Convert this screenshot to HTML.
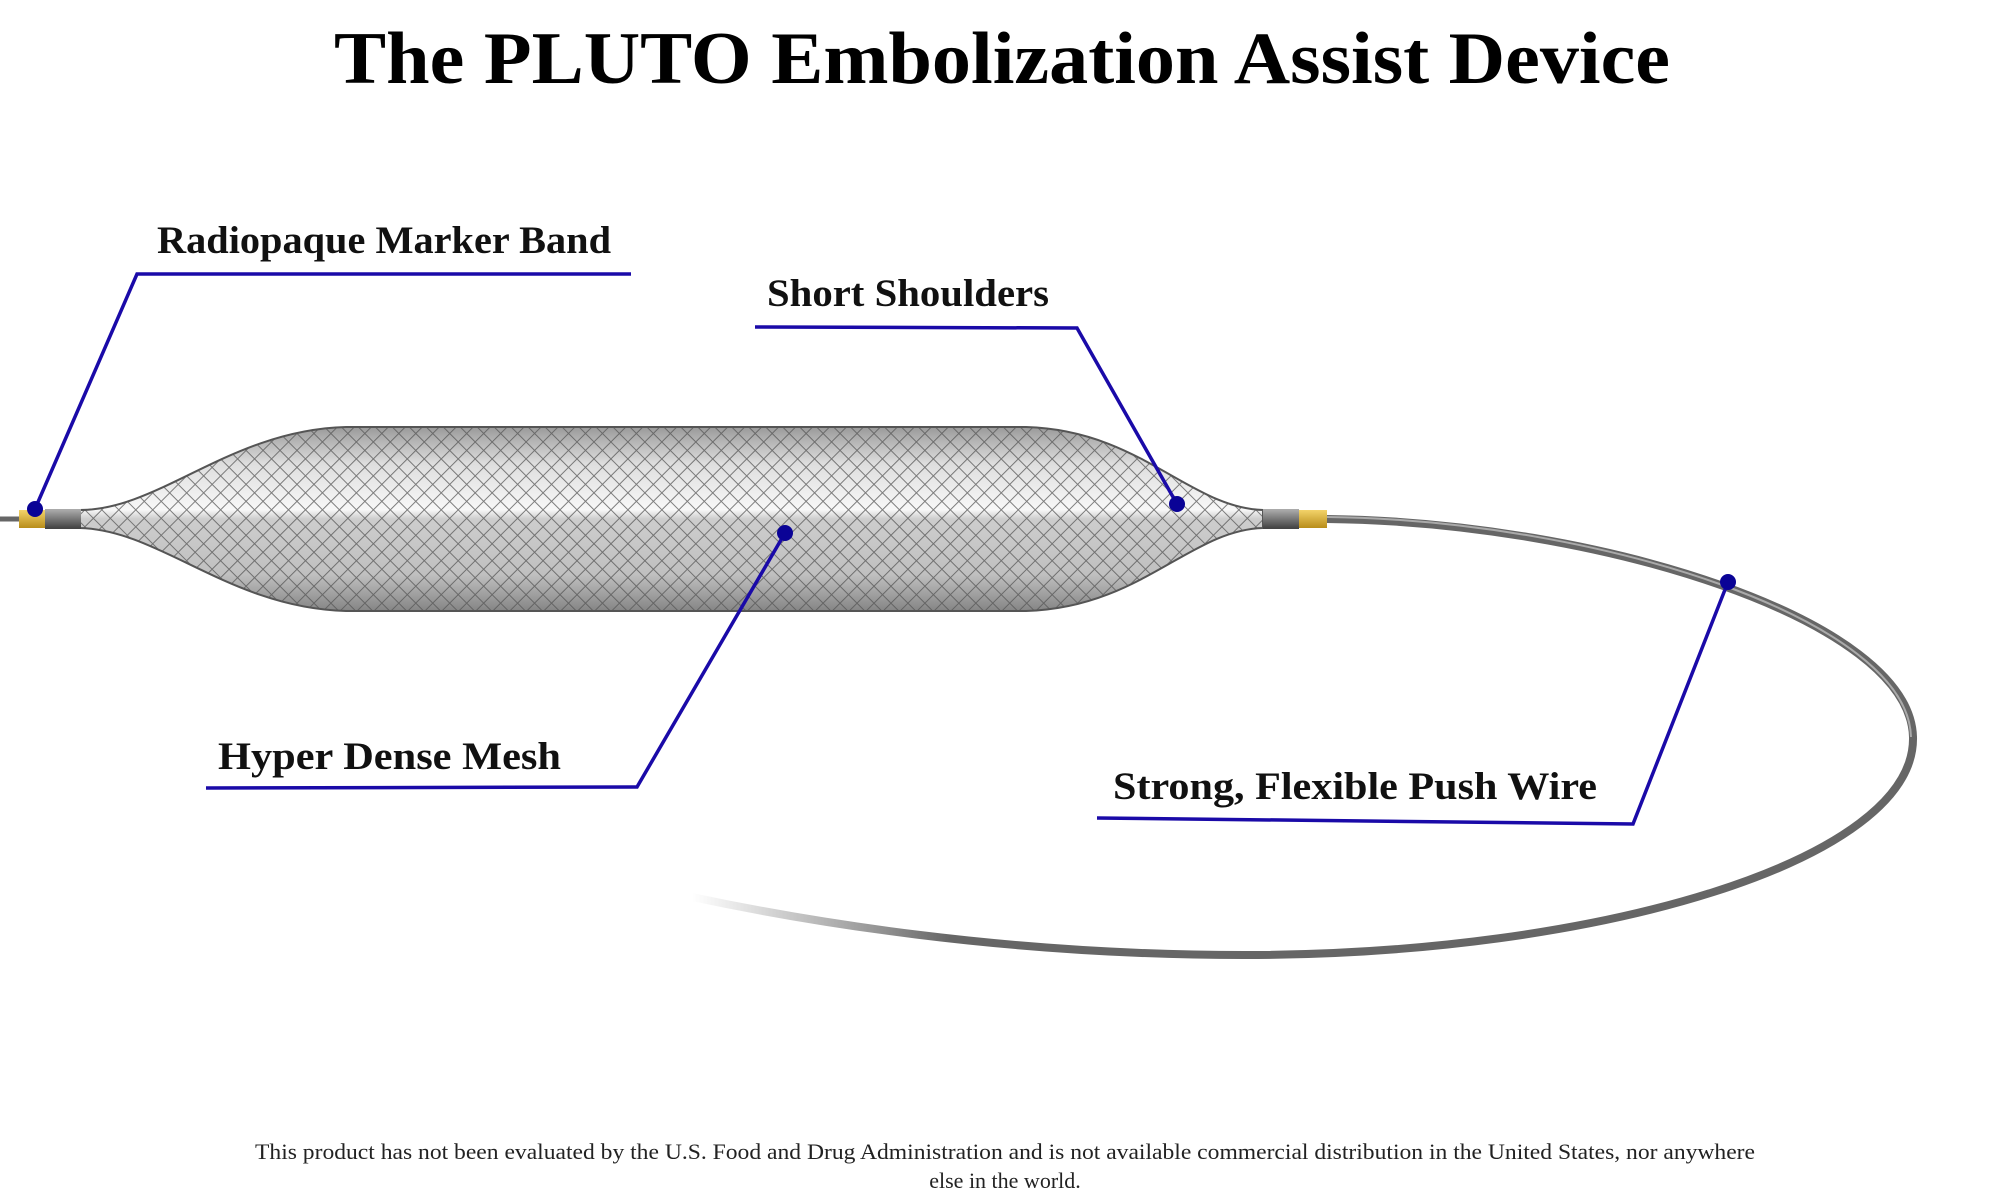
<!DOCTYPE html>
<html><head><meta charset="utf-8"><style>html,body{margin:0;padding:0;background:#fff}svg{display:block}</style></head>
<body>
<svg width="2000" height="1200" viewBox="0 0 2000 1200" xmlns="http://www.w3.org/2000/svg" font-family="Liberation Serif, serif">
<defs>
<pattern id="mesh" width="12" height="12" patternUnits="userSpaceOnUse" patternTransform="rotate(45)">
<path d="M0,0H12M0,0V12" stroke="#555" stroke-width="2" opacity="0.75"/>
</pattern>
<linearGradient id="body" x1="0" y1="427" x2="0" y2="611" gradientUnits="userSpaceOnUse">
<stop offset="0" stop-color="#9a9a9a"/>
<stop offset="0.2" stop-color="#dedede"/>
<stop offset="0.45" stop-color="#f8f8f8"/>
<stop offset="0.5" stop-color="#cdcdcd"/>
<stop offset="0.8" stop-color="#c0c0c0"/>
<stop offset="1" stop-color="#858585"/>
</linearGradient>
<linearGradient id="wire" x1="692" y1="0" x2="950" y2="0" gradientUnits="userSpaceOnUse">
<stop offset="0" stop-color="#777" stop-opacity="0"/>
<stop offset="1" stop-color="#666"/>
</linearGradient>
<linearGradient id="gold" x1="0" y1="510" x2="0" y2="528" gradientUnits="userSpaceOnUse">
<stop offset="0" stop-color="#f3d36a"/><stop offset="1" stop-color="#b88d1a"/>
</linearGradient>
<linearGradient id="collar" x1="0" y1="510" x2="0" y2="528" gradientUnits="userSpaceOnUse">
<stop offset="0" stop-color="#aaa"/><stop offset="1" stop-color="#444"/>
</linearGradient>
</defs>

<text x="1002" y="83" text-anchor="middle" font-size="74" font-weight="bold" textLength="1336" lengthAdjust="spacingAndGlyphs">The PLUTO Embolization Assist Device</text>

<line x1="0" y1="519" x2="22" y2="519" stroke="#666" stroke-width="5"/>
<path d="M1327,519 C1600,522 1910,620 1913,737 C1916,860 1600,955 1244,955 C1000,955 800,920 692,897" fill="none" stroke="url(#wire)" stroke-width="8"/>
<path d="M1327,517 C1600,520 1908,620 1911,737" fill="none" stroke="#aaa" stroke-width="2"/>

<path d="M80,510 C160,510 230,430 346,427 L1026,427 C1140,430 1190,508 1263,510 L1263,528 C1190,530 1140,608 1026,611 L346,611 C230,608 160,530 80,528 Z" fill="url(#body)" stroke="#555" stroke-width="2"/>
<path d="M80,510 C160,510 230,430 346,427 L1026,427 C1140,430 1190,508 1263,510 L1263,528 C1190,530 1140,608 1026,611 L346,611 C230,608 160,530 80,528 Z" fill="url(#mesh)"/>

<rect x="45" y="509" width="36" height="20" fill="url(#collar)"/>
<rect x="19" y="510" width="26" height="18" fill="url(#gold)"/>
<rect x="1263" y="509" width="36" height="20" fill="url(#collar)"/>
<rect x="1299" y="510" width="28" height="18" fill="url(#gold)"/>

<g stroke="#1a0aa8" stroke-width="3.5" fill="none">
<polyline points="631,274 137,274 35,509"/>
<polyline points="755,327 1077,328 1177,504"/>
<polyline points="206,788 637,787 785,533"/>
<polyline points="1097,818 1633,824 1728,582"/>
</g>
<g fill="#0a0396">
<circle cx="35" cy="509" r="8"/>
<circle cx="1177" cy="504" r="8"/>
<circle cx="785" cy="533" r="8"/>
<circle cx="1728" cy="582" r="8"/>
</g>

<g font-size="39" font-weight="bold" fill="#111">
<text x="157" y="253" textLength="454" lengthAdjust="spacingAndGlyphs">Radiopaque Marker Band</text>
<text x="767" y="306" textLength="282" lengthAdjust="spacingAndGlyphs">Short Shoulders</text>
<text x="218" y="769" textLength="343" lengthAdjust="spacingAndGlyphs">Hyper Dense Mesh</text>
<text x="1113" y="799" textLength="484" lengthAdjust="spacingAndGlyphs">Strong, Flexible Push Wire</text>
</g>

<g font-size="22" fill="#222" text-anchor="middle">
<text x="1005" y="1159" textLength="1500" lengthAdjust="spacingAndGlyphs">This product has not been evaluated by the U.S. Food and Drug Administration and is not available commercial distribution in the United States, nor anywhere</text>
<text x="1005" y="1188">else in the world.</text>
</g>
</svg>
</body></html>
